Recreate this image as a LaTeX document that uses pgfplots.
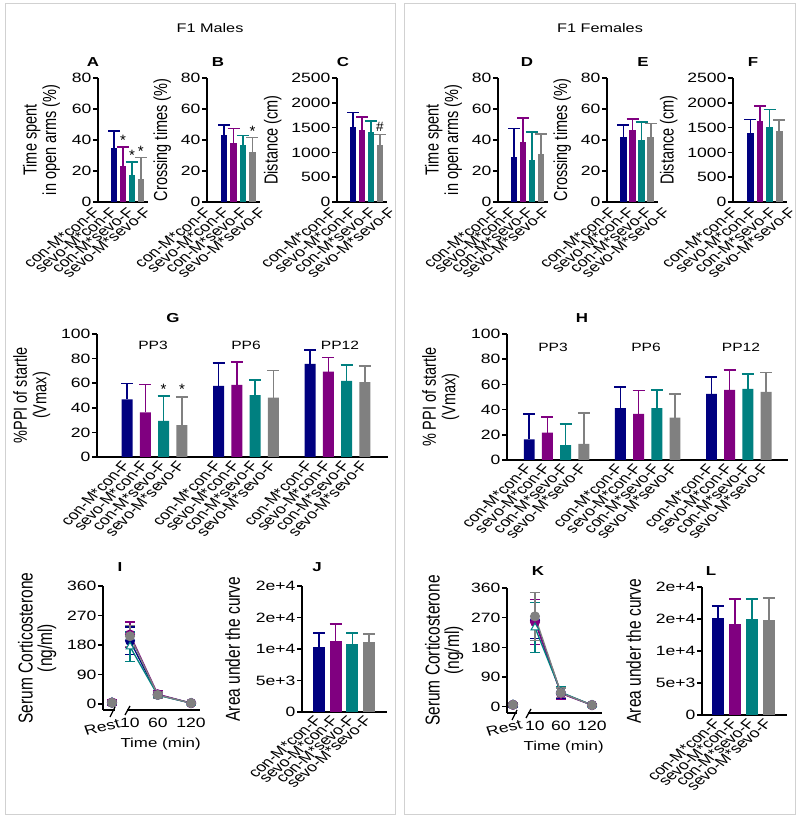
\documentclass[border=0pt]{standalone}
\usepackage{pgfplots}
\pgfplotsset{compat=1.18}
\usepackage{fontspec}
\setmainfont{Liberation Sans}
\newcommand\ff{\fontsize{13}{15.5}\selectfont}
\newcommand\fy{\fontsize{14.5}{15}\selectfont}
\newcommand\fz{\fontsize{15.5}{15}\selectfont}
\newcommand\fb{\fontsize{13.5}{16}\selectfont}
\newcommand\fs{\fontsize{12}{14}\selectfont}
\definecolor{cnavy}{RGB}{0,0,128}
\definecolor{cpurp}{RGB}{128,0,128}
\definecolor{cteal}{RGB}{0,128,128}
\definecolor{cgray}{RGB}{128,128,128}

\pgfplotsset{
  base/.style={
    scale only axis, clip=false, anchor=south west,
    axis lines=left, axis line style={line width=1.8pt, -},
    tick align=outside, major tick length=5pt,
    tick style={black, line width=1.5pt},
    tick label style={font=\fb},
    /pgf/number format/assume math mode=true,
    /pgf/number format/1000 sep={},
    scaled y ticks=false,
    yticklabel style={xscale=1.3, inner sep=1pt},
    ylabel style={font=\fy, yscale=1.3, align=center},
  },
  cat/.style={base, ymin=0, xtick style={draw=none},
    xtick={1,2,3,4},
    xticklabels={con-M*con-F, sevo-M*con-F, con-M*sevo-F, sevo-M*sevo-F},
    xticklabel style={xscale=1.3, rotate=#1, anchor=east, inner sep=1pt}},
  cat/.default=48.5,
  % small panels: tick labels are set by hand below, spread wider than the bars
  catsp/.style={cat, xticklabels={,,,}},
  b/.style={ybar, bar shift=0pt, draw=none, fill=#1,
    error bars/y dir=plus, error bars/y explicit,
    error bars/error bar style={#1, line width=1.6pt},
    error bars/error mark options={#1, rotate=90, mark size=6pt, line width=1.6pt}},
  ln/.style n args={3}{color=#1, line width=1.3pt, mark=#2, mark size=4.5pt,
    mark options={solid, fill=#3, draw=#1, line width=1pt},
    error bars/y dir=both, error bars/y explicit,
    error bars/error bar style={#1, line width=1.3pt},
    error bars/error mark options={#1, rotate=90, mark size=5pt, line width=1.3pt}},
  lin/.style={base, xtick={10,60,120}, xtick style={draw=none},
    xticklabel style={xscale=1.3}, ytick={0,90,...,360}, ymax=360,
    xlabel={Time (min)}, xlabel shift=3pt, xlabel style={font=\ff, xscale=1.3, xshift=7pt},
    ylabel={Serum Corticosterone\\(ng/ml)}, ylabel style={font=\fz}},
}
\tikzset{st/.style={font=\fontsize{15}{17}\selectfont, anchor=south, inner sep=1pt},
  ttl/.style={font=\ff\bfseries, xscale=1.3},
  tx/.style={font=\fs, xscale=1.3}}
% four rotated category names, ends from #1 with step #2 (pt)
\newcommand\labs[2]{%
  \foreach \t [count=\i from 0] in {con-M*con-F, sevo-M*con-F, con-M*sevo-F, sevo-M*sevo-F}
    \node[font=\fb, xscale=1.3, rotate=45.5, anchor=east, inner sep=0pt]
      at ({#1pt+\i*#2pt}, 609pt) {\t};}

\begin{document}
\begin{tikzpicture}
\fill[white] (0,0) rectangle (800pt,819pt);
\useasboundingbox (0,0) rectangle (800pt,819pt);
\draw[black!18, line width=1pt] (5pt,4pt) rectangle (395pt,815pt);
\draw[black!18, line width=1pt] (404pt,4pt) rectangle (795pt,815pt);
\node[font=\fontsize{12.5}{15}\selectfont, xscale=1.3] at (210pt,791pt) {F1 Males};
\node[font=\fontsize{12.5}{15}\selectfont, xscale=1.3] at (600pt,791pt) {F1 Females};

% ---- A
\begin{axis}[catsp, at={(98pt,617pt)}, width=50pt, height=124pt,
  xmin=-0.8, xmax=4.8, ymax=80, ytick={0,20,...,80}, bar width=0.72,
  ylabel={Time spent\\in open arms (\%)}, ylabel shift=6pt]
\addplot[b=cnavy] coordinates {(1,34.7) +- (0,11.2)};
\addplot[b=cpurp] coordinates {(2,23.1) +- (0,12.3)};
\addplot[b=cteal] coordinates {(3,17.2) +- (0,8.7)};
\addplot[b=cgray] coordinates {(4,14.7) +- (0,14.1)};
\node[st] at (axis cs:2,35.4) {*};
\node[st] at (axis cs:3,25.9) {*};
\node[st] at (axis cs:4,28.8) {*};
\end{axis}
\labs{97}{17}
% ---- B
\begin{axis}[catsp, at={(207pt,617pt)}, width=53pt, height=124pt,
  xmin=-0.8, xmax=4.8, ymax=80, ytick={0,20,...,80}, bar width=0.72,
  ylabel={Crossing times (\%)}, ylabel shift=4pt]
\addplot[b=cnavy] coordinates {(1,43.2) +- (0,6.3)};
\addplot[b=cpurp] coordinates {(2,38.3) +- (0,9.1)};
\addplot[b=cteal] coordinates {(3,36.8) +- (0,6.0)};
\addplot[b=cgray] coordinates {(4,32.5) +- (0,9.0)};
\node[st] at (axis cs:4,41.5) {*};
\end{axis}
\labs{208}{18.3}
% ---- C
\begin{axis}[catsp, at={(337pt,617pt)}, width=50pt, height=124pt,
  xmin=-0.8, xmax=4.8, ymax=2500, ytick={0,500,...,2500}, bar width=0.72,
  ylabel={Distance (cm)}, ylabel shift=4pt]
\addplot[b=cnavy] coordinates {(1,1510) +- (0,295)};
\addplot[b=cpurp] coordinates {(2,1450) +- (0,268)};
\addplot[b=cteal] coordinates {(3,1404) +- (0,234)};
\addplot[b=cgray] coordinates {(4,1150) +- (0,210)};
\node[st, font=\fb, inner sep=2.5pt] at (axis cs:4,1360) {\#};
\end{axis}
\labs{334}{19.5}
% ---- D
\begin{axis}[catsp, at={(498pt,617pt)}, width=50pt, height=124pt,
  xmin=-0.8, xmax=4.8, ymax=80, ytick={0,20,...,80}, bar width=0.72,
  ylabel={Time spent\\in open arms (\%)}, ylabel shift=4pt]
\addplot[b=cnavy] coordinates {(1,29.3) +- (0,18.2)};
\addplot[b=cpurp] coordinates {(2,38.9) +- (0,15.4)};
\addplot[b=cteal] coordinates {(3,27.2) +- (0,18.1)};
\addplot[b=cgray] coordinates {(4,31.0) +- (0,12.9)};
\end{axis}
\labs{497}{16.7}
% ---- E
\begin{axis}[catsp, at={(607pt,617pt)}, width=51pt, height=124pt,
  xmin=-0.8, xmax=4.8, ymax=80, ytick={0,20,...,80}, bar width=0.72,
  ylabel={Crossing times (\%)}, ylabel shift=4pt]
\addplot[b=cnavy] coordinates {(1,42.1) +- (0,7.5)};
\addplot[b=cpurp] coordinates {(2,46.4) +- (0,7.1)};
\addplot[b=cteal] coordinates {(3,40.0) +- (0,11.8)};
\addplot[b=cgray] coordinates {(4,42.1) +- (0,8.6)};
\end{axis}
\labs{613}{18}
% ---- F
\begin{axis}[catsp, at={(733pt,617pt)}, width=54pt, height=124pt,
  xmin=-0.8, xmax=4.8, ymax=2500, ytick={0,500,...,2500}, bar width=0.72,
  ylabel={Distance (cm)}, ylabel shift=4pt]
\addplot[b=cnavy] coordinates {(1,1397) +- (0,268)};
\addplot[b=cpurp] coordinates {(2,1638) +- (0,294)};
\addplot[b=cteal] coordinates {(3,1517) +- (0,348)};
\addplot[b=cgray] coordinates {(4,1430) +- (0,221)};
\end{axis}
\labs{735}{19.3}

% ---- G
\begin{axis}[cat=52, at={(97pt,362pt)}, width=291pt, height=123pt,
  xmin=-0.64, xmax=15.26, ymax=100, ytick={0,20,...,100}, bar width=0.6,
  xtick={1,2,3,4,6,7,8,9,11,12,13,14},
  xticklabels={con-M*con-F, sevo-M*con-F, con-M*sevo-F, sevo-M*sevo-F,
    con-M*con-F, sevo-M*con-F, con-M*sevo-F, sevo-M*sevo-F,
    con-M*con-F, sevo-M*con-F, con-M*sevo-F, sevo-M*sevo-F},
  ylabel={\%PPI of startle\\(Vmax)}, ylabel shift=5pt]
\addplot[b=cnavy] coordinates {(1,46.9) +- (0,13.0) (6,57.8) +- (0,18.5) (11,75.7) +- (0,11.5)};
\addplot[b=cpurp] coordinates {(2,36.2) +- (0,22.9) (7,58.6) +- (0,18.5) (12,69.5) +- (0,11.4)};
\addplot[b=cteal] coordinates {(3,29.4) +- (0,20.2) (8,50.4) +- (0,12.3) (13,61.9) +- (0,12.8)};
\addplot[b=cgray] coordinates {(4,25.9) +- (0,23.1) (9,48.2) +- (0,22.1) (14,60.8) +- (0,13.3)};
\node[st] at (axis cs:3,50.2) {*};
\node[st] at (axis cs:4,49.6) {*};
\end{axis}
% ---- H
\begin{axis}[cat=51, at={(507pt,359pt)}, width=281pt, height=126pt,
  xmin=-0.22, xmax=15.2, ymax=100, ytick={0,20,...,100}, bar width=0.6,
  xtick={1,2,3,4,6,7,8,9,11,12,13,14},
  xticklabels={con-M*con-F, sevo-M*con-F, con-M*sevo-F, sevo-M*sevo-F,
    con-M*con-F, sevo-M*con-F, con-M*sevo-F, sevo-M*sevo-F,
    con-M*con-F, sevo-M*con-F, con-M*sevo-F, sevo-M*sevo-F},
  ylabel={\% PPI of startle\\(Vmax)}, ylabel shift=6pt]
\addplot[b=cnavy] coordinates {(1,16.4) +- (0,20.2) (6,41.1) +- (0,16.7) (11,52.5) +- (0,13.3)};
\addplot[b=cpurp] coordinates {(2,21.8) +- (0,12.2) (7,36.6) +- (0,18.6) (12,55.7) +- (0,15.9)};
\addplot[b=cteal] coordinates {(3,11.9) +- (0,16.5) (8,41.1) +- (0,14.6) (13,56.5) +- (0,11.9)};
\addplot[b=cgray] coordinates {(4,12.7) +- (0,24.4) (9,33.7) +- (0,18.8) (14,54.1) +- (0,15.4)};
\end{axis}
\node[tx] at (153pt,474pt) {PP3};
\node[tx] at (246pt,474pt) {PP6};
\node[tx] at (340pt,474pt) {PP12};
\node[tx] at (553pt,472pt) {PP3};
\node[tx] at (646pt,472pt) {PP6};
\node[tx] at (741pt,472pt) {PP12};

% ---- I
\begin{axis}[lin, at={(103pt,109pt)}, width=97pt, height=124pt,
  xmin=-38.6, xmax=136, ymin=-18, ylabel shift=5pt]
\addplot[ln={cnavy}{*}{cnavy}] coordinates {(10,193) +- (0,42) (60,28) +- (0,9) (120,3) +- (0,2)};
\addplot[ln={cpurp}{*}{cpurp}] coordinates {(10,212) +- (0,38) (60,30) +- (0,11) (120,3) +- (0,2)};
\addplot[ln={cteal}{triangle*}{white}] coordinates {(10,175) +- (0,45) (60,27) +- (0,10) (120,3) +- (0,2)};
\addplot[ln={cgray}{*}{cgray}] coordinates {(10,207) +- (0,32) (60,28) +- (0,9) (120,3) +- (0,2)};
\addplot[ln={cnavy}{*}{cnavy}, only marks] coordinates {(-22.4,4) +- (0,8)};
\addplot[ln={cpurp}{*}{cpurp}, only marks] coordinates {(-22.4,5) +- (0,8)};
\addplot[ln={cteal}{triangle*}{white}, only marks] coordinates {(-22.4,5) +- (0,7)};
\addplot[ln={cgray}{*}{cgray}, only marks] coordinates {(-22.4,4) +- (0,6)};
\end{axis}
\fill[white] (115pt,106pt) rectangle (127pt,112pt);
\draw[line width=1.3pt] (110pt,102pt) -- (115pt,112pt);
\draw[line width=1.3pt] (125pt,104pt) -- (130pt,113pt);
\node[font=\fb, xscale=1.3, rotate=15] at (102pt,92pt) {Rest};

% ---- J
\begin{axis}[cat, at={(302pt,107pt)}, width=85pt, height=126pt,
  xmin=-0.02, xmax=5.08, ymax=20000, bar width=0.72,
  ytick={0,5000,10000,15000,20000}, yticklabels={0,5e+3,1e+4,2e+4,2e+4},
  ylabel={Area under the curve}, ylabel style={font=\fz}, ylabel shift=10pt]
\addplot[b=cnavy] coordinates {(1,10300) +- (0,2200)};
\addplot[b=cpurp] coordinates {(2,11270) +- (0,2700)};
\addplot[b=cteal] coordinates {(3,10800) +- (0,1740)};
\addplot[b=cgray] coordinates {(4,11100) +- (0,1280)};
\end{axis}

% ---- K
\begin{axis}[lin, at={(507pt,106pt)}, width=95pt, height=125pt,
  xmin=-44, xmax=139.3, ymin=-19, ylabel shift=2pt]
\addplot[ln={cnavy}{*}{cnavy}] coordinates {(10,262) +- (0,55) (60,42) +- (0,17) (120,5) +- (0,3)};
\addplot[ln={cpurp}{*}{cpurp}] coordinates {(10,257) +- (0,68) (60,40) +- (0,18) (120,5) +- (0,3)};
\addplot[ln={cteal}{triangle*}{white}] coordinates {(10,240) +- (0,75) (60,44) +- (0,16) (120,5) +- (0,3)};
\addplot[ln={cgray}{*}{cgray}] coordinates {(10,274) +- (0,73) (60,42) +- (0,15) (120,5) +- (0,3)};
\addplot[ln={cnavy}{*}{cnavy}, only marks] coordinates {(-32.4,6) +- (0,6)};
\addplot[ln={cpurp}{*}{cpurp}, only marks] coordinates {(-32.4,6) +- (0,7)};
\addplot[ln={cteal}{triangle*}{white}, only marks] coordinates {(-32.4,6) +- (0,6)};
\addplot[ln={cgray}{*}{cgray}, only marks] coordinates {(-32.4,6) +- (0,5)};
\end{axis}
\fill[white] (517pt,103pt) rectangle (528pt,109pt);
\draw[line width=1.3pt] (512pt,99pt) -- (517pt,109pt);
\draw[line width=1.3pt] (526pt,101pt) -- (531pt,110pt);
\node[font=\fb, xscale=1.3, rotate=15] at (504pt,91pt) {Rest};

% ---- L
\begin{axis}[cat, at={(702pt,104pt)}, width=85pt, height=128pt,
  xmin=0.06, xmax=5.06, ymax=20000, bar width=0.72,
  ytick={0,5000,10000,15000,20000}, yticklabels={0,5e+3,1e+4,2e+4,2e+4},
  ylabel={Area under the curve}, ylabel style={font=\fz}, ylabel shift=9pt]
\addplot[b=cnavy] coordinates {(1,15200) +- (0,1800)};
\addplot[b=cpurp] coordinates {(2,14200) +- (0,3900)};
\addplot[b=cteal] coordinates {(3,15000) +- (0,3100)};
\addplot[b=cgray] coordinates {(4,14800) +- (0,3500)};
\end{axis}

% panel letters
\node[ttl] at (93pt,757pt) {A};
\node[ttl] at (218pt,757pt) {B};
\node[ttl] at (343pt,757pt) {C};
\node[ttl] at (527pt,757pt) {D};
\node[ttl] at (643pt,757pt) {E};
\node[ttl] at (753pt,757pt) {F};
\node[ttl] at (173pt,501pt) {G};
\node[ttl] at (582pt,501pt) {H};
\node[ttl] at (120pt,252pt) {I};
\node[ttl] at (317pt,252pt) {J};
\node[ttl] at (538pt,248pt) {K};
\node[ttl] at (711pt,248pt) {L};
\end{tikzpicture}
\end{document}
